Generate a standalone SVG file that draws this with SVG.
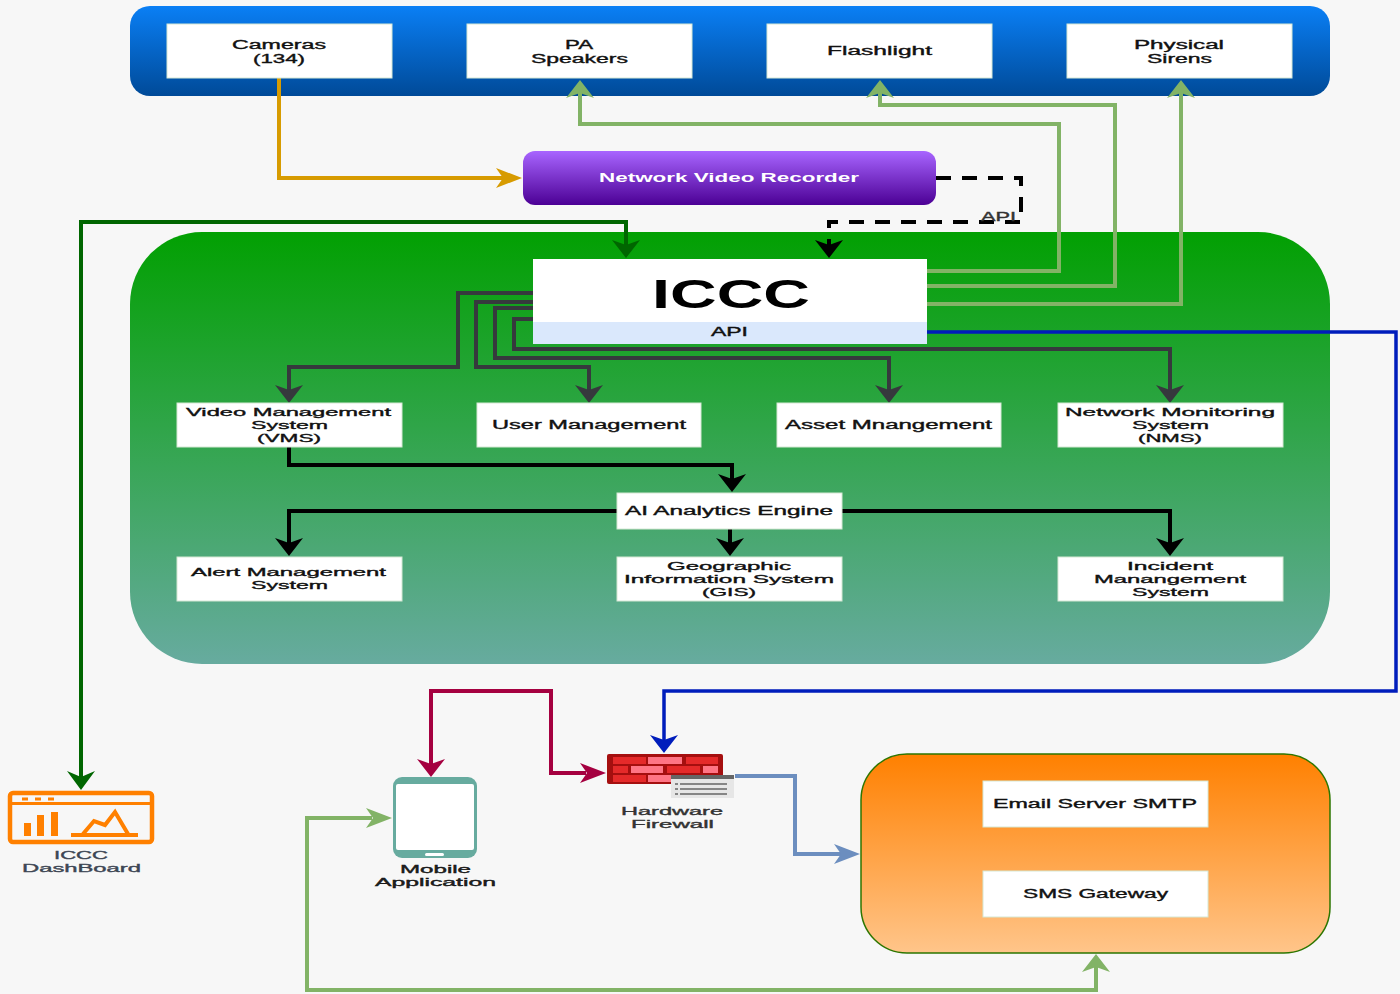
<svg xmlns="http://www.w3.org/2000/svg" width="1400" height="994" viewBox="0 0 1400 994">
<style>
text{font-family:"Liberation Sans",Arial,sans-serif;font-size:11px;fill:#111;stroke:#111;stroke-width:.35px}
.s{font-size:12px}
.box{fill:#fff;stroke:#d5e8d4;stroke-width:1}
.c{fill:none;stroke-linejoin:miter}
.lg{stroke:#82b366;stroke-width:4}
.dk{stroke:#36393d;stroke-width:4}
.bk{stroke:#000;stroke-width:4}
.br{fill:#e52a2a}.bp{fill:#ff7585}
</style>
<defs>
<linearGradient id="gBlue" x1="0" y1="0" x2="0" y2="1"><stop offset="0" stop-color="#0a7ff5"/><stop offset="1" stop-color="#004a98"/></linearGradient>
<linearGradient id="gPurple" x1="0" y1="0" x2="0" y2="1"><stop offset="0" stop-color="#a865ff"/><stop offset="1" stop-color="#4c0095"/></linearGradient>
<linearGradient id="gGreen" x1="0" y1="0" x2="0" y2="1"><stop offset="0" stop-color="#02a002"/><stop offset="1" stop-color="#67ab9f"/></linearGradient>
<linearGradient id="gOrange" x1="0" y1="0" x2="0" y2="1"><stop offset="0" stop-color="#ff8000"/><stop offset="1" stop-color="#ffc58a"/></linearGradient>
<path id="head" d="M0,1 L18,15 L0,29 L5,15Z"/>
<path id="headL" d="M0,5 L26,15 L0,25 L7,15Z"/>
<marker id="aOrange" markerUnits="userSpaceOnUse" markerWidth="32" markerHeight="30" refX="20" refY="15" orient="auto"><use href="#headL" fill="#d79b00"/></marker>
<marker id="aDark" markerUnits="userSpaceOnUse" markerWidth="30" markerHeight="30" refX="12" refY="15" orient="auto"><use href="#head" fill="#006600"/></marker>
<marker id="aBlack" markerUnits="userSpaceOnUse" markerWidth="30" markerHeight="30" refX="12" refY="15" orient="auto"><use href="#head" fill="#000"/></marker>
<marker id="aLG" markerUnits="userSpaceOnUse" markerWidth="30" markerHeight="30" refX="12" refY="15" orient="auto"><use href="#head" fill="#82b366"/></marker>
<marker id="aGrey" markerUnits="userSpaceOnUse" markerWidth="30" markerHeight="30" refX="12" refY="15" orient="auto"><use href="#head" fill="#36393d"/></marker>
<marker id="aBlue" markerUnits="userSpaceOnUse" markerWidth="30" markerHeight="30" refX="12" refY="15" orient="auto"><use href="#head" fill="#001dbc"/></marker>
<marker id="aRed" markerUnits="userSpaceOnUse" markerWidth="30" markerHeight="30" refX="12" refY="15" orient="auto"><use href="#head" fill="#a50040"/></marker>
<marker id="aSteel" markerUnits="userSpaceOnUse" markerWidth="32" markerHeight="30" refX="20" refY="15" orient="auto"><use href="#headL" fill="#6c8ebf"/></marker>
</defs>
<rect width="1400" height="994" fill="#f7f7f7"/>

<g id="sensors-panel"><rect x="130" y="6" width="1200" height="90" rx="20" fill="url(#gBlue)"/></g>
<g id="iccc-panel"><rect x="130" y="232" width="1200" height="432" rx="72" fill="url(#gGreen)"/></g>

<g id="connectors">
<path class="c" d="M279,78V178H516" stroke="#d79b00" stroke-width="4" marker-end="url(#aOrange)"/>
<path class="c" d="M81,784V222H626V252" stroke="#006600" stroke-width="4" marker-end="url(#aDark)"/>
<path d="M67,771L81,790L95,771L81,777Z" fill="#006600"/>
<path class="c" d="M936,178H1021V222H829V252" stroke="#000" stroke-width="4" stroke-dasharray="15 11" marker-end="url(#aBlack)"/>
<path class="c lg" d="M927,271H1059V124H580V86" marker-end="url(#aLG)"/>
<path class="c lg" d="M927,286H1115V105H880V86" marker-end="url(#aLG)"/>
<path class="c lg" d="M927,304H1181V86" marker-end="url(#aLG)"/>
<path class="c" d="M927,332H1396V691H664V747" stroke="#001dbc" stroke-width="3.5" marker-end="url(#aBlue)"/>
<path class="c dk" d="M533,293H458V367H289V397" marker-end="url(#aGrey)"/>
<path class="c dk" d="M533,302H476V367H589V397" marker-end="url(#aGrey)"/>
<path class="c dk" d="M533,308H495V358H889V397" marker-end="url(#aGrey)"/>
<path class="c dk" d="M533,319H514V349H1170V397" marker-end="url(#aGrey)"/>
<path class="c bk" d="M289,447V465H732V486" marker-end="url(#aBlack)"/>
<path class="c bk" d="M617,511H289V550" marker-end="url(#aBlack)"/>
<path class="c bk" d="M842,511H1170V550" marker-end="url(#aBlack)"/>
<path class="c bk" d="M730,529V550" marker-end="url(#aBlack)"/>
<path class="c" d="M586,773H551V691H431V771" stroke="#a50040" stroke-width="4" marker-end="url(#aRed)"/>
<path d="M580,763L606,773L580,783L587,773Z" fill="#a50040"/>
<path class="c lg" d="M372,818H307V990H1096V960" marker-end="url(#aLG)"/>
<path d="M366,808L392,818L366,828L373,818Z" fill="#82b366"/>
<path class="c" d="M735,776H795V854H854" stroke="#6c8ebf" stroke-width="4" marker-end="url(#aSteel)"/>
<text class="s" x="981" y="221" textLength="35" lengthAdjust="spacingAndGlyphs" style="fill:#333;stroke:#333">API</text>
</g>

<g id="cameras"><rect class="box" x="167" y="24" width="225" height="54"/><text class="s" x="232" y="49" textLength="94" lengthAdjust="spacingAndGlyphs">Cameras</text><text class="s" x="253" y="63" textLength="52" lengthAdjust="spacingAndGlyphs">(134)</text></g>
<g id="pa-speakers"><rect class="box" x="467" y="24" width="225" height="54"/><text class="s" x="565" y="49" textLength="28" lengthAdjust="spacingAndGlyphs">PA</text><text class="s" x="531" y="63" textLength="97" lengthAdjust="spacingAndGlyphs">Speakers</text></g>
<g id="flashlight"><rect class="box" x="767" y="24" width="225" height="54"/><text class="s" x="827" y="55" textLength="105" lengthAdjust="spacingAndGlyphs">Flashlight</text></g>
<g id="sirens"><rect class="box" x="1067" y="24" width="225" height="54"/><text class="s" x="1134" y="49" textLength="90" lengthAdjust="spacingAndGlyphs">Physical</text><text class="s" x="1147" y="63" textLength="65" lengthAdjust="spacingAndGlyphs">Sirens</text></g>

<g id="nvr"><rect x="523" y="151" width="413" height="54" rx="12" fill="url(#gPurple)"/><text x="599" y="182" textLength="260" lengthAdjust="spacingAndGlyphs" style="fill:#fff;stroke:none;font-weight:700;font-size:12px">Network Video Recorder</text></g>

<g id="iccc"><rect x="533" y="259" width="394" height="63" fill="#fff"/><rect x="533" y="322" width="394" height="22" fill="#dae8fc"/><text x="652" y="308" textLength="158" lengthAdjust="spacingAndGlyphs" style="font-size:41px;font-weight:700;fill:#000;stroke:none">ICCC</text><text class="s" x="711" y="336" textLength="37" lengthAdjust="spacingAndGlyphs">API</text></g>

<g id="vms"><rect class="box" x="177" y="403" width="225" height="44"/><text x="186" y="416" textLength="205" lengthAdjust="spacingAndGlyphs">Video Management</text><text x="251" y="429" textLength="77" lengthAdjust="spacingAndGlyphs">System</text><text x="257" y="442" textLength="64" lengthAdjust="spacingAndGlyphs">(VMS)</text></g>
<g id="user-mgmt"><rect class="box" x="477" y="403" width="224" height="44"/><text class="s" x="492" y="429" textLength="194" lengthAdjust="spacingAndGlyphs">User Management</text></g>
<g id="asset-mgmt"><rect class="box" x="777" y="403" width="224" height="44"/><text class="s" x="785" y="429" textLength="207" lengthAdjust="spacingAndGlyphs">Asset Mnangement</text></g>
<g id="nms"><rect class="box" x="1058" y="403" width="225" height="44"/><text x="1065" y="416" textLength="210" lengthAdjust="spacingAndGlyphs">Network Monitoring</text><text x="1132" y="429" textLength="77" lengthAdjust="spacingAndGlyphs">System</text><text x="1138" y="442" textLength="64" lengthAdjust="spacingAndGlyphs">(NMS)</text></g>
<g id="ai-engine"><rect class="box" x="617" y="493" width="225" height="36"/><text class="s" x="625" y="515" textLength="208" lengthAdjust="spacingAndGlyphs">AI Analytics Engine</text></g>
<g id="alert"><rect class="box" x="177" y="557" width="225" height="44"/><text x="191" y="576" textLength="195" lengthAdjust="spacingAndGlyphs">Alert Management</text><text x="251" y="589" textLength="77" lengthAdjust="spacingAndGlyphs">System</text></g>
<g id="gis"><rect class="box" x="617" y="557" width="225" height="44"/><text x="667" y="570" textLength="124" lengthAdjust="spacingAndGlyphs">Geographic</text><text x="624" y="583" textLength="210" lengthAdjust="spacingAndGlyphs">Information System</text><text x="702" y="596" textLength="54" lengthAdjust="spacingAndGlyphs">(GIS)</text></g>
<g id="incident"><rect class="box" x="1058" y="557" width="225" height="44"/><text x="1127" y="570" textLength="86" lengthAdjust="spacingAndGlyphs">Incident</text><text x="1094" y="583" textLength="152" lengthAdjust="spacingAndGlyphs">Manangement</text><text x="1132" y="596" textLength="77" lengthAdjust="spacingAndGlyphs">System</text></g>

<g id="dashboard"><rect x="10" y="793" width="142" height="49" rx="3" fill="none" stroke="#ff8000" stroke-width="4.5"/><path d="M10,803.5H152" stroke="#ff8000" stroke-width="3"/><path d="M22,799h6M35,799h6M48,799h6" stroke="#ff8000" stroke-width="3"/><path d="M24,823h7v13h-7zM37,815h7v21h-7zM51,812h7v24h-7z" fill="#ff8000"/><path d="M71,835H138M83,834L94,821L105,825L115,812L128,834" fill="none" stroke="#ff8000" stroke-width="4"/><text x="54" y="859" textLength="54" lengthAdjust="spacingAndGlyphs" style="fill:#3d4654;stroke:#3d4654">ICCC</text><text x="22" y="872" textLength="119" lengthAdjust="spacingAndGlyphs" style="fill:#3d4654;stroke:#3d4654">DashBoard</text></g>

<g id="mobile"><rect x="393" y="777" width="84" height="81" rx="9" fill="#67ab9f"/><rect x="396" y="784" width="78" height="66" rx="2" fill="#fff"/><rect x="425" y="853" width="19" height="3" rx="1.5" fill="#fff"/><text x="400" y="873" textLength="71" lengthAdjust="spacingAndGlyphs" style="fill:#222">Mobile</text><text x="375" y="886" textLength="121" lengthAdjust="spacingAndGlyphs" style="fill:#222">Application</text></g>

<g id="firewall"><rect x="607" y="754" width="116" height="30" rx="2" fill="#a50f0f"/><rect class="br" x="613" y="757" width="33" height="7"/><rect class="bp" x="648" y="757" width="34" height="7"/><rect class="br" x="686" y="757" width="32" height="7"/><rect class="br" x="613" y="766" width="15" height="7"/><rect class="bp" x="631" y="766" width="32" height="7"/><rect class="br" x="667" y="766" width="33" height="7"/><rect class="bp" x="703" y="766" width="15" height="7"/><rect class="br" x="613" y="775" width="33" height="7"/><rect class="bp" x="648" y="775" width="34" height="7"/><rect x="671" y="775" width="63" height="23" fill="#e6e6e6"/><rect x="671" y="775" width="63" height="4" fill="#666"/><path d="M680,784H727M680,789H727M680,794H727M675,784h3M675,789h3M675,794h3" stroke="#666" stroke-width="1.5"/><text x="621" y="815" textLength="102" lengthAdjust="spacingAndGlyphs" style="fill:#333;stroke:#333">Hardware</text><text x="631" y="828" textLength="83" lengthAdjust="spacingAndGlyphs" style="fill:#333;stroke:#333">Firewall</text></g>

<g id="notify-panel"><rect x="861" y="754" width="469" height="199" rx="46" fill="url(#gOrange)" stroke="#2d7600" stroke-width="1.5"/></g>
<g id="email"><rect class="box" x="983" y="781" width="225" height="46"/><text class="s" x="993" y="808" textLength="204" lengthAdjust="spacingAndGlyphs">Email Server SMTP</text></g>
<g id="sms"><rect class="box" x="983" y="871" width="225" height="46"/><text class="s" x="1023" y="898" textLength="145" lengthAdjust="spacingAndGlyphs">SMS Gateway</text></g>
</svg>
